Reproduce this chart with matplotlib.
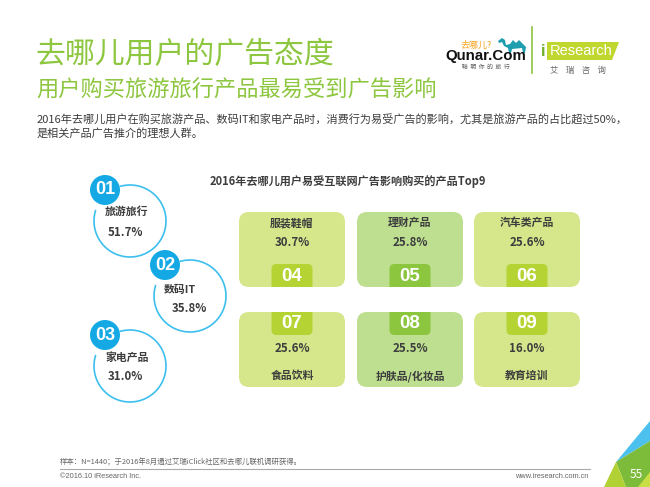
import numpy as np
import matplotlib
matplotlib.use('Agg')
import matplotlib.pyplot as plt
from matplotlib.patches import FancyBboxPatch, Circle, Polygon

plt.rcParams['font.family'] = ['Noto Sans CJK SC', 'DejaVu Sans']

# ---------------- data ----------------
title = '去哪儿用户的广告态度'
subtitle = '用户购买旅游旅行产品最易受到广告影响'
para_lines = ['2016年去哪儿用户在购买旅游产品、数码IT和家电产品时，消费行为易受广告的影响，尤其是旅游产品的占比超过50%，',
              '是相关产品广告推介的理想人群。']
chart_title = '2016年去哪儿用户易受互联网广告影响购买的产品Top9'
top3_names = ['旅游旅行', '数码IT', '家电产品']
top3_values = [51.7, 35.8, 31.0]
rest_names = ['服装鞋帽', '理财产品', '汽车类产品', '食品饮料', '护肤品/化妆品', '教育培训']
rest_values = [30.7, 25.8, 25.6, 25.6, 25.5, 16.0]
note = '样本：N=1440；于2016年8月通过艾瑞iClick社区和去哪儿联机调研获得。'
copyright_text = '©2016.10 iResearch Inc.'
url = 'www.iresearch.com.cn'
page = '55'

# ---------------- colours ----------------
GREEN = '#8dc63f'
TXT = '#3d3d3d'
RING = '#3dbfee'
BADGE = '#14a9e4'
BOX_LIGHT = '#d5e68b'
BOX_GREEN = '#bddf8f'
TAB_LIGHT = '#b6d334'
TAB_GREEN = '#8cc63f'

fig = plt.figure(figsize=(6.5, 4.87), dpi=100)
ax = fig.add_axes([0, 0, 1, 1])
ax.set_xlim(0, 650)
ax.set_ylim(487, 0)
ax.axis('off')

# ---------------- header ----------------
ax.text(35, 54, title, fontsize=21.5, color=GREEN, ha='left', va='center')
ax.text(36, 90, subtitle, fontsize=16, color=GREEN, ha='left', va='center')
for i, line in enumerate(para_lines):
    ax.text(37, 120 + i * 13, line, fontsize=8, color=TXT, ha='left', va='center')

# Qunar logo
ax.text(476, 45, '去哪儿?', fontsize=6.5, color='#f5a21c', ha='center', va='center')
camel = [(498, 41), (502, 38), (505, 40), (506, 45), (510, 44), (513, 40), (516, 43), (519, 40),
         (523, 44), (526, 47), (525, 53), (523, 53), (522, 48), (512, 49), (511, 53), (509, 53),
         (508, 48), (504, 46), (502, 42), (499, 43)]
ax.add_patch(Polygon(camel, closed=True, color='#1d9fb0', lw=0))
ax.text(486, 56, 'Qunar.Com', fontsize=10.8, fontweight='bold', color='#111111',
        family=['Liberation Sans', 'DejaVu Sans'], ha='center', va='center')
ax.text(486, 67, '聪  明  你  的  旅  行', fontsize=4.2, color='#555555', ha='center', va='center')
ax.plot([532, 532], [27, 73], color=GREEN, lw=1.2)
# iResearch logo
ax.add_patch(Polygon([(547, 42), (619, 42), (612, 60), (547, 60)], closed=True, color='#c0d72f', lw=0))
ax.text(543, 51, 'i', fontsize=12, fontweight='bold', color='#6fae2a',
        family=['Liberation Sans', 'DejaVu Sans'], ha='center', va='center')
ax.text(581, 51, 'Research', fontsize=10.5, color='white',
        family=['Liberation Sans', 'DejaVu Sans'], ha='center', va='center')
ax.text(578, 70, '艾    瑞    咨    询', fontsize=6, color='#666666', ha='center', va='center')

# ---------------- chart title ----------------
ax.text(348, 182, chart_title, fontsize=8, fontweight='bold', color=TXT, ha='center', va='center')

# ---------------- top 3 rings ----------------
ring_centers = [(130, 221), (190, 296), (130, 366)]
name_offsets = [(-3, -9), (-10, -6), (-3, -8)]
val_offsets = [(-5, 12), (-1, 13), (-5, 11)]
R = 36
t = np.radians(np.linspace(163, 466, 200))
for i, (name, val) in enumerate(zip(top3_names, top3_values)):
    cx, cy = ring_centers[i]
    ax.plot(cx + R * np.cos(t), cy - R * np.sin(t), color=RING, lw=1.2, solid_capstyle='round')
    ax.add_patch(Circle((cx - 25, cy - 31), 15, color=BADGE, lw=0))
    ax.text(cx - 25, cy - 31, f'{i + 1:02d}', fontsize=13, fontweight='bold', color='white',
            family=['Liberation Sans', 'DejaVu Sans'], ha='center', va='center')
    ax.text(cx + name_offsets[i][0], cy + name_offsets[i][1], name, fontsize=7.8,
            fontweight='bold', color=TXT, ha='center', va='center')
    ax.text(cx + val_offsets[i][0], cy + val_offsets[i][1], f'{val:.1f}%', fontsize=8.3,
            fontweight='bold', color=TXT, ha='center', va='center')

# ---------------- boxes 4-9 ----------------
col_x = [292, 410, 527]
row_top = [212, 312]
BW, BH = 106, 75
TW, TH = 41, 23
box_colors = [BOX_LIGHT, BOX_GREEN, BOX_LIGHT]
tab_colors = [TAB_LIGHT, TAB_GREEN, TAB_LIGHT]
for k, (name, val) in enumerate(zip(rest_names, rest_values)):
    r, c = divmod(k, 3)
    cx = col_x[c]
    y0 = row_top[r]
    box = FancyBboxPatch((cx - BW / 2, y0), BW, BH, boxstyle='round,pad=0,rounding_size=10',
                         facecolor=box_colors[c], edgecolor='none')
    ax.add_patch(box)
    if r == 0:
        tab = FancyBboxPatch((cx - TW / 2, y0 + BH - TH), TW, TH + 12,
                             boxstyle='round,pad=0,rounding_size=5',
                             facecolor=tab_colors[c], edgecolor='none')
        ax.add_patch(tab)
        tab.set_clip_path(box)
        num_y, val_y, name_y = y0 + BH - TH / 2 + 1, y0 + 31, y0 + 11
    else:
        tab = FancyBboxPatch((cx - TW / 2, y0 - 12), TW, TH + 12,
                             boxstyle='round,pad=0,rounding_size=5',
                             facecolor=tab_colors[c], edgecolor='none')
        ax.add_patch(tab)
        tab.set_clip_path(box)
        num_y, val_y, name_y = y0 + TH / 2, y0 + 37, y0 + 64
    ax.text(cx, num_y, f'{k + 4:02d}', fontsize=13.5, fontweight='bold', color='white',
            family=['Liberation Sans', 'DejaVu Sans'], ha='center', va='center')
    ax.text(cx, val_y, f'{val:.1f}%', fontsize=8.3, fontweight='bold', color=TXT,
            ha='center', va='center')
    ax.text(cx, name_y, name, fontsize=7.8, fontweight='bold', color=TXT,
            ha='center', va='center')

# ---------------- footer ----------------
ax.text(60, 462, note, fontsize=5.3, color='#666666', ha='left', va='center')
ax.plot([60, 590], [469, 469], color='#aaaaaa', lw=0.8)
ax.text(60, 477, copyright_text, fontsize=5.3, color='#666666',
        family=['Liberation Sans', 'DejaVu Sans'], ha='left', va='center')
ax.text(588, 477, url, fontsize=5.3, color='#666666',
        family=['Liberation Sans', 'DejaVu Sans'], ha='right', va='center')

# corner decoration
ax.add_patch(Polygon([(650, 421), (616, 462), (650, 441)], closed=True, color='#4cc1ee', lw=0))
ax.add_patch(Polygon([(650, 441), (616, 462), (626, 487), (650, 487)], closed=True, color='#7dbb3b', lw=0))
ax.add_patch(Polygon([(616, 462), (604, 487), (626, 487)], closed=True, color='#b1d135', lw=0))
ax.add_patch(Polygon([(638, 487), (650, 472), (650, 487)], closed=True, color='#c9dd45', lw=0))
ax.text(636, 475, page, fontsize=8.5, color='white', ha='center', va='center')

fig.savefig('out.png', dpi=100)
